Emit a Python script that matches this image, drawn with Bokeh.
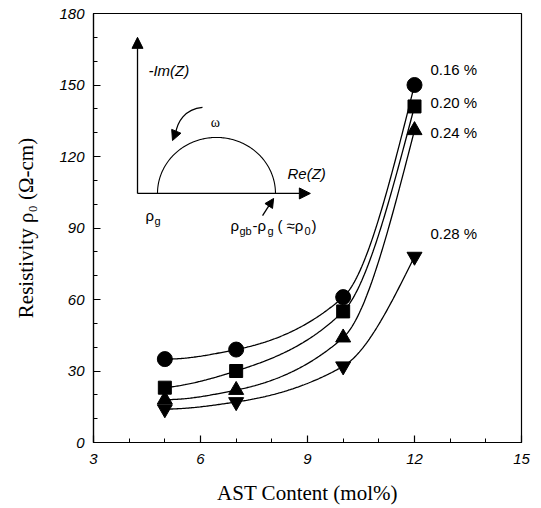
import numpy as np
from bokeh.plotting import figure
from bokeh.models import Range1d, Arrow, NormalHead, FixedTicker
from bokeh.core.properties import value
from bokeh.embed import file_html
from bokeh.resources import INLINE

# ---- data ----
ast_content = [5, 7, 10, 12]
rho_016 = [35, 39, 61, 150]
rho_020 = [23, 30, 55, 141]
rho_024 = [18, 22, 44, 131]
rho_028 = [14, 17, 32, 78]
series_labels = ["0.16 %", "0.20 %", "0.24 %", "0.28 %"]
x_ticks = [3, 6, 9, 12, 15]
y_ticks = [0, 30, 60, 90, 120, 150, 180]

series = [rho_016, rho_020, rho_024, rho_028]
markers = ["circle", "square", "triangle", "inverted_triangle"]
marker_sizes = [15, 13, 15, 15]
label_offsets_y = [-16, -4, 2, -23]   # px, label placement relative to last point


def pchip(x, y, xs):
    x = np.asarray(x, float); y = np.asarray(y, float)
    n = len(x); h = np.diff(x); d = np.diff(y) / h
    m = np.zeros(n)
    for k in range(1, n - 1):
        if d[k - 1] * d[k] <= 0:
            m[k] = 0
        else:
            w1 = 2 * h[k] + h[k - 1]; w2 = h[k] + 2 * h[k - 1]
            m[k] = (w1 + w2) / (w1 / d[k - 1] + w2 / d[k])
    m[0] = ((2 * h[0] + h[1]) * d[0] - h[0] * d[1]) / (h[0] + h[1])
    m[-1] = ((2 * h[-1] + h[-2]) * d[-1] - h[-1] * d[-2]) / (h[-1] + h[-2])
    out = np.empty_like(xs)
    for i, xv in enumerate(xs):
        k = min(np.searchsorted(x, xv, side="right") - 1, n - 2)
        t = (xv - x[k]) / h[k]
        h00 = 2 * t**3 - 3 * t**2 + 1; h10 = t**3 - 2 * t**2 + t
        h01 = -2 * t**3 + 3 * t**2; h11 = t**3 - t**2
        out[i] = h00 * y[k] + h10 * h[k] * m[k] + h01 * y[k + 1] + h11 * h[k] * m[k + 1]
    return out


p = figure(width=541, height=508, output_backend="svg", toolbar_location=None,
           x_range=Range1d(3, 15), y_range=Range1d(0, 180),
           min_border_left=93, min_border_right=20, min_border_top=13, min_border_bottom=66)
p.grid.visible = False
p.outline_line_color = "black"
p.outline_line_width = 1.2
p.background_fill_color = "white"
p.border_fill_color = "white"

p.xaxis.ticker = FixedTicker(ticks=x_ticks, minor_ticks=list(range(3, 16)))
p.yaxis.ticker = FixedTicker(ticks=y_ticks, minor_ticks=list(range(0, 181, 10)))
for ax in (p.xaxis[0], p.yaxis[0]):
    ax.major_tick_in = 7
    ax.major_tick_out = 0
    ax.minor_tick_in = 4
    ax.minor_tick_out = 0
    ax.axis_line_width = 1.2
    ax.major_tick_line_width = 1.2
    ax.major_label_text_font = "Liberation Sans"
    ax.major_label_text_font_style = "italic"
    ax.major_label_text_font_size = "15px"
    ax.major_label_text_color = "black"
    ax.axis_label_text_font = "Liberation Serif"
    ax.axis_label_text_font_style = "normal"
    ax.axis_label_text_font_size = "21px"
    ax.axis_label_text_color = "black"
p.xaxis.major_label_standoff = 11
p.yaxis.major_label_standoff = 9
p.xaxis.axis_label = "AST Content (mol%)"
p.yaxis.axis_label = "Resistivity ρ₀ (Ω-cm)"
p.xaxis.axis_label_standoff = 14
p.yaxis.axis_label_standoff = 18

xs = np.linspace(ast_content[0], ast_content[-1], 200)
for ys, mk, ms, lab, dy in zip(series, markers, marker_sizes, series_labels, label_offsets_y):
    p.line(xs, pchip(ast_content, ys, xs), line_color="black", line_width=1.3)
    p.scatter(ast_content, ys, marker=mk, size=ms, fill_color="black", line_color="black")
    p.text([ast_content[-1]], [ys[-1]], text=[lab], x_offset=16, y_offset=dy,
           text_font=value("Liberation Sans"), text_font_size="15px",
           text_baseline="middle", text_align="left", text_color="black")

# ---- inset schematic (impedance arc) ----
ix0, iy0 = 4.234, 104.5
p.add_layout(Arrow(x_start=ix0, y_start=iy0, x_end=ix0, y_end=170,
                   line_width=1.3, end=NormalHead(size=11, fill_color="black", line_color="black")))
p.add_layout(Arrow(x_start=ix0, y_start=iy0, x_end=9.08, y_end=iy0,
                   line_width=1.3, end=NormalHead(size=11, fill_color="black", line_color="black")))
th = np.linspace(0, np.pi, 120)
p.line(6.448 + 1.654 * np.cos(th), iy0 + 23.5 * np.sin(th), line_color="black", line_width=1.1)

p.text([4.54], [156.1], text=["-Im(Z)"], text_font=value("Liberation Sans"),
       text_font_style="italic", text_font_size="15px", text_baseline="middle", text_color="black")
p.text([8.44], [112.9], text=["Re(Z)"], text_font=value("Liberation Sans"),
       text_font_style="italic", text_font_size="15px", text_baseline="middle", text_color="black")
p.text([6.42], [134.3], text=["ω"], text_font=value("Liberation Serif"),
       text_font_size="14px", text_baseline="middle", text_align="center", text_color="black")

# curved arrow (omega direction)
p.bezier(x0=[6.056], y0=[140.6], x1=[5.30], y1=[129.5], cx0=[5.55], cy0=[139.8], cx1=[5.35], cy1=[134.5],
         line_color="black", line_width=1.3)
p.add_layout(Arrow(x_start=5.32, y_start=130.5, x_end=5.215, y_end=126.7, line_width=1.3,
                   end=NormalHead(size=10, fill_color="black", line_color="black")))

# rho_g label
p.text([4.46], [95.2], text=["ρ"], text_font=value("Liberation Sans"), text_font_size="15px",
       text_baseline="middle", text_color="black")
p.text([4.46], [95.2], text=["g"], x_offset=9, y_offset=5, text_font=value("Liberation Sans"),
       text_font_size="11px", text_baseline="middle", text_color="black")

# rho_gb - rho_g (≈rho_0) label
pieces = [("ρ", 0, 0, "15px"), ("gb", 9, 5, "11px"), ("-ρ", 22, 0, "15px"),
          ("g", 37, 5, "11px"), ("( ≈ρ", 47, 0, "15px"), ("0", 74, 5, "11px"), (")", 81, 0, "15px")]
for txt, dx, dy, fs in pieces:
    p.text([6.84], [91.0], text=[txt], x_offset=dx, y_offset=dy, text_font=value("Liberation Sans"),
           text_font_size=fs, text_baseline="middle", text_color="black")
p.add_layout(Arrow(x_start=7.74, y_start=95.2, x_end=8.05, y_end=102.4, line_width=1.3,
                   end=NormalHead(size=9, fill_color="black", line_color="black")))

open("out.html", "w").write(file_html(p, INLINE))
